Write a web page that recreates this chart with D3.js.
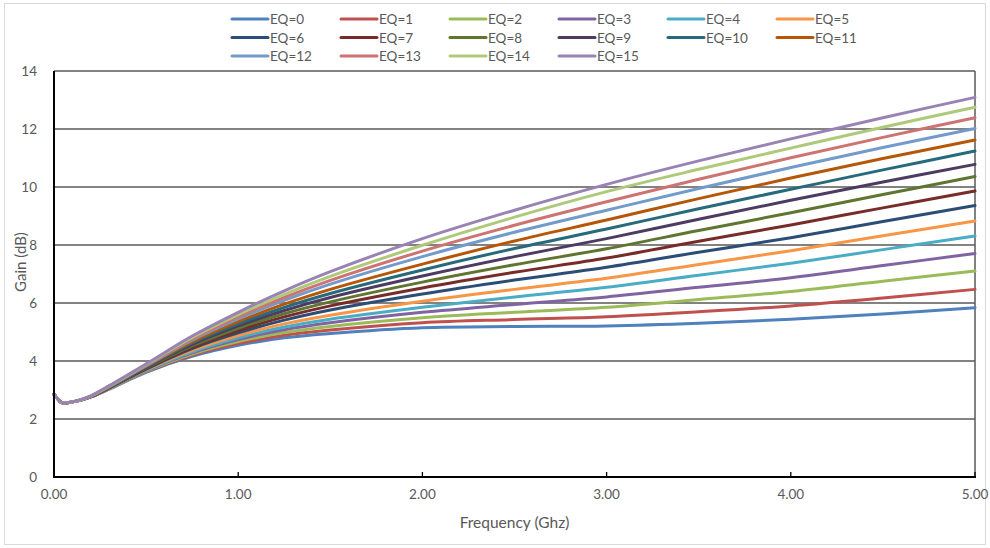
<!DOCTYPE html>
<html>
<head>
<meta charset="utf-8">
<script src="https://cdn.jsdelivr.net/npm/d3@7"></script>
<style>
  html, body { margin: 0; padding: 0; background: #ffffff; }
  svg { display: block; }
  text { font-family: Lato, "Open Sans", sans-serif; fill: #595959; }
</style>
</head>
<body>
<svg id="chart" width="990" height="548"></svg>
<script>
// ---------------- DATA ----------------
const frequencies = [0, 0.02, 0.04, 0.07, 0.1, 0.15, 0.2, 0.3, 0.5, 0.75, 1.0, 1.25, 1.5, 2.0, 2.5, 3.0, 3.5, 4.0, 4.5, 5.0];

const eqLabels = ["EQ=0","EQ=1","EQ=2","EQ=3","EQ=4","EQ=5","EQ=6","EQ=7",
                  "EQ=8","EQ=9","EQ=10","EQ=11","EQ=12","EQ=13","EQ=14","EQ=15"];

const eqColors = ["#4F81BD","#C0504D","#9BBB59","#8064A2","#4BACC6","#F79646",
                  "#2C4D75","#772C2A","#5F7530","#4D3B62","#276A7C","#B65708",
                  "#729ACA","#CD7371","#AFC97A","#9983B5"];

const gains = [
  [2.85,2.70,2.57,2.56,2.59,2.66,2.76,3.03,3.61,4.16,4.54,4.80,4.95,5.15,5.19,5.21,5.30,5.44,5.62,5.84],
  [2.85,2.70,2.57,2.56,2.59,2.66,2.76,3.04,3.63,4.20,4.60,4.89,5.07,5.32,5.43,5.53,5.70,5.90,6.17,6.47],
  [2.85,2.70,2.57,2.56,2.59,2.66,2.76,3.04,3.64,4.24,4.67,4.98,5.19,5.49,5.68,5.85,6.12,6.40,6.75,7.10],
  [2.85,2.70,2.57,2.56,2.59,2.66,2.76,3.05,3.66,4.28,4.74,5.08,5.32,5.68,5.95,6.21,6.54,6.87,7.29,7.71],
  [2.85,2.70,2.57,2.56,2.59,2.66,2.77,3.06,3.68,4.32,4.80,5.17,5.44,5.85,6.21,6.54,6.96,7.37,7.84,8.31],
  [2.85,2.70,2.57,2.56,2.59,2.66,2.77,3.06,3.70,4.37,4.88,5.28,5.58,6.06,6.47,6.85,7.33,7.80,8.32,8.83],
  [2.85,2.70,2.57,2.56,2.59,2.66,2.77,3.07,3.72,4.43,4.97,5.41,5.76,6.31,6.79,7.23,7.75,8.25,8.81,9.36],
  [2.85,2.70,2.57,2.56,2.59,2.66,2.77,3.08,3.74,4.47,5.05,5.52,5.90,6.52,7.06,7.55,8.13,8.69,9.28,9.86],
  [2.85,2.70,2.57,2.56,2.59,2.67,2.78,3.09,3.76,4.52,5.13,5.63,6.04,6.72,7.32,7.87,8.50,9.11,9.74,10.36],
  [2.85,2.70,2.57,2.56,2.59,2.67,2.78,3.10,3.78,4.57,5.21,5.74,6.19,6.93,7.60,8.22,8.89,9.54,10.17,10.78],
  [2.85,2.70,2.57,2.56,2.59,2.67,2.78,3.10,3.80,4.62,5.28,5.85,6.33,7.14,7.88,8.55,9.25,9.92,10.59,11.24],
  [2.85,2.70,2.57,2.56,2.59,2.67,2.78,3.11,3.82,4.66,5.36,5.96,6.47,7.34,8.14,8.86,9.60,10.31,10.98,11.62],
  [2.85,2.70,2.57,2.56,2.59,2.67,2.79,3.12,3.84,4.72,5.45,6.09,6.65,7.60,8.44,9.20,9.95,10.67,11.36,12.02],
  [2.85,2.70,2.57,2.56,2.59,2.67,2.79,3.13,3.86,4.76,5.52,6.19,6.78,7.79,8.68,9.49,10.27,11.01,11.71,12.39],
  [2.85,2.70,2.57,2.56,2.59,2.67,2.79,3.14,3.88,4.81,5.60,6.30,6.92,7.99,8.96,9.84,10.61,11.34,12.06,12.75],
  [2.85,2.70,2.57,2.56,2.59,2.68,2.80,3.15,3.90,4.86,5.68,6.42,7.08,8.22,9.20,10.09,10.90,11.66,12.39,13.09]
];

const yTicks = [0, 2, 4, 6, 8, 10, 12, 14];
const xTicks = [0, 1, 2, 3, 4, 5];
const xTitle = "Frequency (Ghz)";
const yTitle = "Gain (dB)";

// ---------------- LAYOUT ----------------
const svg = d3.select("#chart");
const W = 990, H = 548;
const plot = { left: 54, right: 975, top: 71, bottom: 477 };

// outer chart border
svg.append("rect")
  .attr("x", 4.5).attr("y", 3.5)
  .attr("width", W - 9).attr("height", H - 7)
  .attr("fill", "#ffffff")
  .attr("stroke", "#d9d9d9").attr("stroke-width", 1);

const x = d3.scaleLinear().domain([0, 5]).range([plot.left, plot.right]);
const y = d3.scaleLinear().domain([0, 14]).range([plot.bottom, plot.top]);

// gridlines
svg.append("g")
  .selectAll("line")
  .data(yTicks.filter(d => d > 0))
  .join("line")
  .attr("x1", plot.left).attr("x2", plot.right)
  .attr("y1", d => y(d)).attr("y2", d => y(d))
  .attr("stroke", "#595959").attr("stroke-width", 1.5);

// right border of plot area
svg.append("line")
  .attr("x1", plot.right).attr("x2", plot.right)
  .attr("y1", plot.top).attr("y2", plot.bottom)
  .attr("stroke", "#595959").attr("stroke-width", 1.5);

// y tick labels
svg.append("g")
  .selectAll("text")
  .data(yTicks)
  .join("text")
  .attr("x", 37).attr("y", d => y(d))
  .attr("text-anchor", "end")
  .attr("dominant-baseline", "central")
  .attr("font-size", 13.5)
  .text(d => d);

// series lines
const line = d3.line()
  .x((d, i) => x(frequencies[i]))
  .y(d => y(d))
  .curve(d3.curveCatmullRom.alpha(0.5));

svg.append("g")
  .selectAll("path")
  .data(gains)
  .join("path")
  .attr("d", d => line(d))
  .attr("fill", "none")
  .attr("stroke", (d, i) => eqColors[i])
  .attr("stroke-width", 3)
  .attr("stroke-linejoin", "round")
  .attr("stroke-linecap", "round");

// axes lines (black)
svg.append("line")
  .attr("x1", plot.left).attr("x2", plot.left)
  .attr("y1", plot.top).attr("y2", plot.bottom + 1)
  .attr("stroke", "#000").attr("stroke-width", 2);
svg.append("line")
  .attr("x1", plot.left - 1).attr("x2", plot.right + 1)
  .attr("y1", plot.bottom).attr("y2", plot.bottom)
  .attr("stroke", "#000").attr("stroke-width", 2);

// x tick marks (inside)
svg.append("g")
  .selectAll("line")
  .data(xTicks)
  .join("line")
  .attr("x1", d => x(d)).attr("x2", d => x(d))
  .attr("y1", plot.bottom).attr("y2", plot.bottom - 5)
  .attr("stroke", "#000").attr("stroke-width", 1.3);

// x tick labels
svg.append("g")
  .selectAll("text")
  .data(xTicks)
  .join("text")
  .attr("x", d => x(d)).attr("y", 494)
  .attr("text-anchor", "middle")
  .attr("dominant-baseline", "central")
  .attr("font-size", 13.5)
  .text(d => d3.format(".2f")(d));

// axis titles
svg.append("text")
  .attr("x", (plot.left + plot.right) / 2).attr("y", 522)
  .attr("text-anchor", "middle")
  .attr("dominant-baseline", "central")
  .attr("font-size", 15.5)
  .text(xTitle);

svg.append("text")
  .attr("transform", "translate(20,262) rotate(-90)")
  .attr("text-anchor", "middle")
  .attr("dominant-baseline", "central")
  .attr("font-size", 15)
  .text(yTitle);

// legend
const legend = svg.append("g");
const legX0 = 232, legDX = 109, legY0 = 19, legDY = 18.5;
const items = legend.selectAll("g")
  .data(eqLabels)
  .join("g")
  .attr("transform", (d, i) => `translate(${legX0 + (i % 6) * legDX},${legY0 + Math.floor(i / 6) * legDY})`);
items.append("line")
  .attr("x1", 0).attr("x2", 36)
  .attr("y1", 0).attr("y2", 0)
  .attr("stroke", (d, i) => eqColors[i])
  .attr("stroke-width", 3)
  .attr("stroke-linecap", "round");
items.append("text")
  .attr("x", 38).attr("y", 0)
  .attr("dominant-baseline", "central")
  .attr("font-size", 13.5)
  .text(d => d);
</script>
</body>
</html>
